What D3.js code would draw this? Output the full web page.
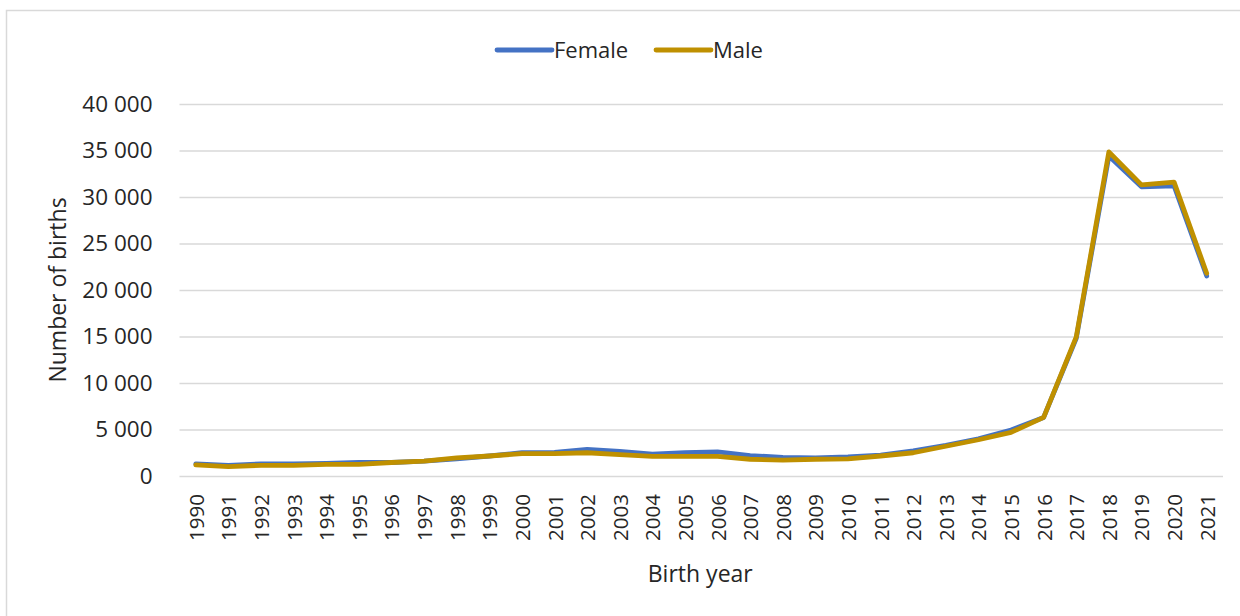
<!DOCTYPE html>
<html>
<head>
<meta charset="utf-8">
<script src="https://cdn.jsdelivr.net/npm/d3@7"></script>
<style>
  html, body { margin: 0; padding: 0; background: #fff; }
  svg { display: block; }
  text { font-family: "Open Sans", "Noto Sans", sans-serif; fill: #262626; }
</style>
</head>
<body>
<svg id="chart" width="1240" height="616"></svg>
<script>
// Births per year by sex
const years = ["1990","1991","1992","1993","1994","1995","1996","1997","1998","1999",
  "2000","2001","2002","2003","2004","2005","2006","2007","2008","2009",
  "2010","2011","2012","2013","2014","2015","2016","2017","2018","2019","2020","2021"];
const female = [1300,1150,1300,1300,1350,1450,1450,1600,1850,2150,
  2500,2550,2850,2650,2350,2500,2600,2200,2000,1950,
  2050,2250,2700,3300,4000,4950,6300,14800,34400,31100,31200,21500];
const male = [1200,1000,1150,1150,1250,1250,1450,1600,1950,2150,
  2400,2400,2500,2300,2100,2100,2100,1800,1700,1800,
  1850,2150,2500,3200,3900,4700,6300,14950,34850,31300,31600,21800];
const yTicks = [0,5000,10000,15000,20000,25000,30000,35000,40000];
const seriesNames = ["Female","Male"];
const seriesColors = ["#4472C4","#BF9000"];

const svg = d3.select("#chart");

// chart area frame
svg.append("rect")
  .attr("x", 6.5).attr("y", 10.5)
  .attr("width", 1250).attr("height", 620)
  .attr("fill", "none").attr("stroke", "#d9d9d9").attr("stroke-width", 1.5);

const plot = { left: 179.5, right: 1223, top: 104, bottom: 476 };

const x = d3.scalePoint().domain(years)
  .range([plot.left, plot.right]).padding(0.5);
const y = d3.scaleLinear().domain([0, 40000]).range([plot.bottom, plot.top]);

const fmt = v => d3.format(",")(v).replace(/,/g, " ");

// horizontal gridlines + y tick labels
const yAxis = d3.axisLeft(y).tickValues(yTicks)
  .tickSize(-(plot.right - plot.left)).tickPadding(27).tickFormat(fmt);
const gy = svg.append("g").attr("transform", `translate(${plot.left},0)`).call(yAxis);
gy.select(".domain").remove();
gy.selectAll(".tick line").attr("stroke", "#d9d9d9").attr("stroke-width", 1.5);
gy.selectAll(".tick text").attr("font-size", 22.5).attr("fill", "#262626")
  .style("font-family", "'Open Sans', sans-serif");

// x axis labels, rotated
const xAxis = d3.axisBottom(x).tickSize(0).tickPadding(0);
const gx = svg.append("g").attr("transform", `translate(0,${plot.bottom})`).call(xAxis);
gx.select(".domain").remove();
gx.selectAll(".tick text")
  .attr("font-size", 20.5).attr("fill", "#262626")
  .style("font-family", "'Open Sans', sans-serif")
  .attr("text-anchor", "end")
  .attr("dy", null)
  .attr("transform", "translate(7.5,18) rotate(-90)")
  .attr("x", 0).attr("y", 0);

// axis titles
svg.append("text")
  .attr("transform", `translate(66,${(plot.top + plot.bottom) / 2}) rotate(-90)`)
  .attr("text-anchor", "middle").attr("font-size", 23).text("Number of births");
svg.append("text")
  .attr("x", (plot.left + plot.right) / 2 - 1).attr("y", 582)
  .attr("text-anchor", "middle").attr("font-size", 23).text("Birth year");

// lines
const line = d3.line().x((d, i) => x(years[i])).y(d => y(d));
[female, male].forEach((s, k) => {
  svg.append("path").datum(s)
    .attr("d", line)
    .attr("fill", "none")
    .attr("stroke", seriesColors[k])
    .attr("stroke-width", 4.8)
    .attr("stroke-linejoin", "round")
    .attr("stroke-linecap", "round");
});

// legend
const legendX = [497, 656];
seriesNames.forEach((name, k) => {
  const g = svg.append("g").attr("transform", `translate(${legendX[k]},50)`);
  g.append("line").attr("x1", 0).attr("x2", 55).attr("y1", 0).attr("y2", 0)
    .attr("stroke", seriesColors[k]).attr("stroke-width", 4.8).attr("stroke-linecap", "round");
  g.append("text").attr("x", 57).attr("y", 8).attr("font-size", 22).text(name);
});
</script>
</body>
</html>
